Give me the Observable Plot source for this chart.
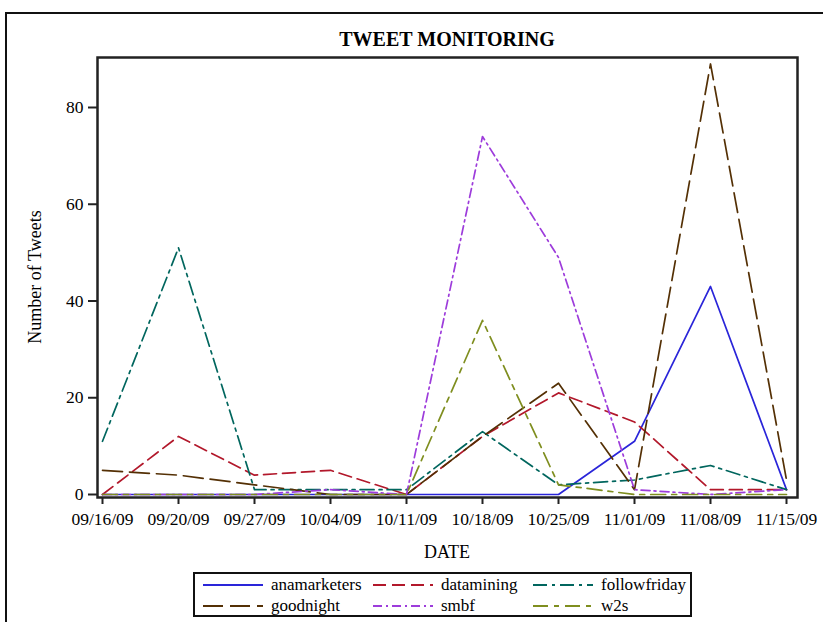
<!DOCTYPE html>
<html>
<head>
<meta charset="utf-8">
<script src="https://cdn.jsdelivr.net/npm/d3@7"></script>
<script src="https://cdn.jsdelivr.net/npm/@observablehq/plot@0.6"></script>
<style>
  html, body { margin: 0; padding: 0; background: #fff; }
  #wrap { position: relative; width: 823px; height: 622px; overflow: hidden; font-family: "Liberation Serif", "Times New Roman", serif; color: #000; }
  #outer { position: absolute; left: 5px; top: 12px; width: 830px; height: 700px; border: 2px solid #111; box-sizing: border-box; }
  #title { position: absolute; left: 97px; width: 700px; top: 28px; text-align: center; font-size: 20px; font-weight: bold; }
  #ylab { position: absolute; left: 35px; top: 277px; transform: translate(-50%, -50%) rotate(-90deg); font-size: 18px; white-space: nowrap; }
  #xlab { position: absolute; left: 447px; top: 552px; transform: translate(-50%, -50%); font-size: 18px; }
  #chart { position: absolute; left: 0; top: 0; }
  #legend { position: absolute; left: 193px; top: 572px; width: 499px; height: 45px; border: 2px solid #111; box-sizing: border-box; font-size: 17px; }
  .item { position: absolute; display: flex; align-items: center; height: 20px; white-space: nowrap; }
  .item svg { margin-right: 8px; }
</style>
</head>
<body>
<div id="wrap">
  <div id="outer"></div>
  <div id="chart"></div>
  <div id="title">TWEET MONITORING</div>
  <div id="ylab">Number of Tweets</div>
  <div id="xlab">DATE</div>
  <div id="legend"></div>
</div>
<script>
const dates = ["09/16/09","09/20/09","09/27/09","10/04/09","10/11/09","10/18/09","10/25/09","11/01/09","11/08/09","11/15/09"];
const seriesNames = ["anamarketers","datamining","followfriday","goodnight","smbf","w2s"];
const anamarketers = [0, 0, 0, 0, 0, 0, 0, 11, 43, 1];
const datamining   = [0, 12, 4, 5, 0, 12, 21, 15, 1, 1];
const followfriday = [11, 51, 1, 1, 1, 13, 2, 3, 6, 1];
const goodnight    = [5, 4, 2, 0, 0, 12, 23, 1, 89, 3];
const smbf         = [0, 0, 0, 1, 0, 74, 49, 1, 0, 1];
const w2s          = [0, 0, 0, 0, 0, 36, 2, 0, 0, 0];
const yTicks = [0, 20, 40, 60, 80];

const seriesValues = [anamarketers, datamining, followfriday, goodnight, smbf, w2s];
const colors = ["#2A25D9", "#B2182B", "#01665E", "#543005", "#9D3CDB", "#7F8E1F"];
const dashes = ["none", "13,6", "14,5,3,5", "20,7", "9,4,2,4", "15,6,5,6"];

const data = seriesNames.flatMap((s, i) =>
  seriesValues[i].map((v, j) => ({date: dates[j], count: v, series: s})));

const chart = Plot.plot({
  width: 823,
  height: 565,
  marginLeft: 97,
  marginRight: 26,
  marginTop: 57,
  marginBottom: 68,
  style: {fontFamily: "'Liberation Serif', 'Times New Roman', serif", fontSize: "17.5px", color: "#000", background: "transparent"},
  x: {type: "point", domain: dates, range: [100, 788], padding: 0},
  y: {domain: [0, 80], range: [494, 107]},
  marks: [
    ...seriesNames.map((s, i) => Plot.line(data.filter(d => d.series === s), {
      x: "date", y: "count", stroke: colors[i], strokeWidth: 1.7,
      strokeDasharray: dashes[i] === "none" ? null : dashes[i]
    })),
    Plot.frame({stroke: "#222", strokeWidth: 2.5}),
    Plot.axisX({ticks: dates, tickSize: 7, tickPadding: 8, label: null, stroke: "#222", strokeWidth: 2, fontSize: 17.5, fill: "#000"}),
    Plot.axisY({ticks: yTicks, tickSize: 9, tickPadding: 5, label: null, stroke: "#222", strokeWidth: 2, fontSize: 17.5, fill: "#000"})
  ]
});
document.getElementById("chart").appendChild(chart);

// legend
const legend = document.getElementById("legend");
const pos = [[8, 1], [178, 1], [338, 1], [8, 22], [178, 22], [338, 22]];
seriesNames.forEach((s, i) => {
  const item = document.createElement("div");
  item.className = "item";
  item.style.left = pos[i][0] + "px";
  item.style.top = pos[i][1] + "px";
  const ns = "http://www.w3.org/2000/svg";
  const svg = document.createElementNS(ns, "svg");
  svg.setAttribute("width", 60);
  svg.setAttribute("height", 10);
  const line = document.createElementNS(ns, "line");
  line.setAttribute("x1", 0); line.setAttribute("x2", 60);
  line.setAttribute("y1", 5); line.setAttribute("y2", 5);
  line.setAttribute("stroke", colors[i]);
  line.setAttribute("stroke-width", 1.8);
  if (dashes[i] !== "none") line.setAttribute("stroke-dasharray", dashes[i]);
  svg.appendChild(line);
  item.appendChild(svg);
  const t = document.createElement("span");
  t.textContent = s;
  item.appendChild(t);
  legend.appendChild(item);
});
</script>
</body>
</html>
